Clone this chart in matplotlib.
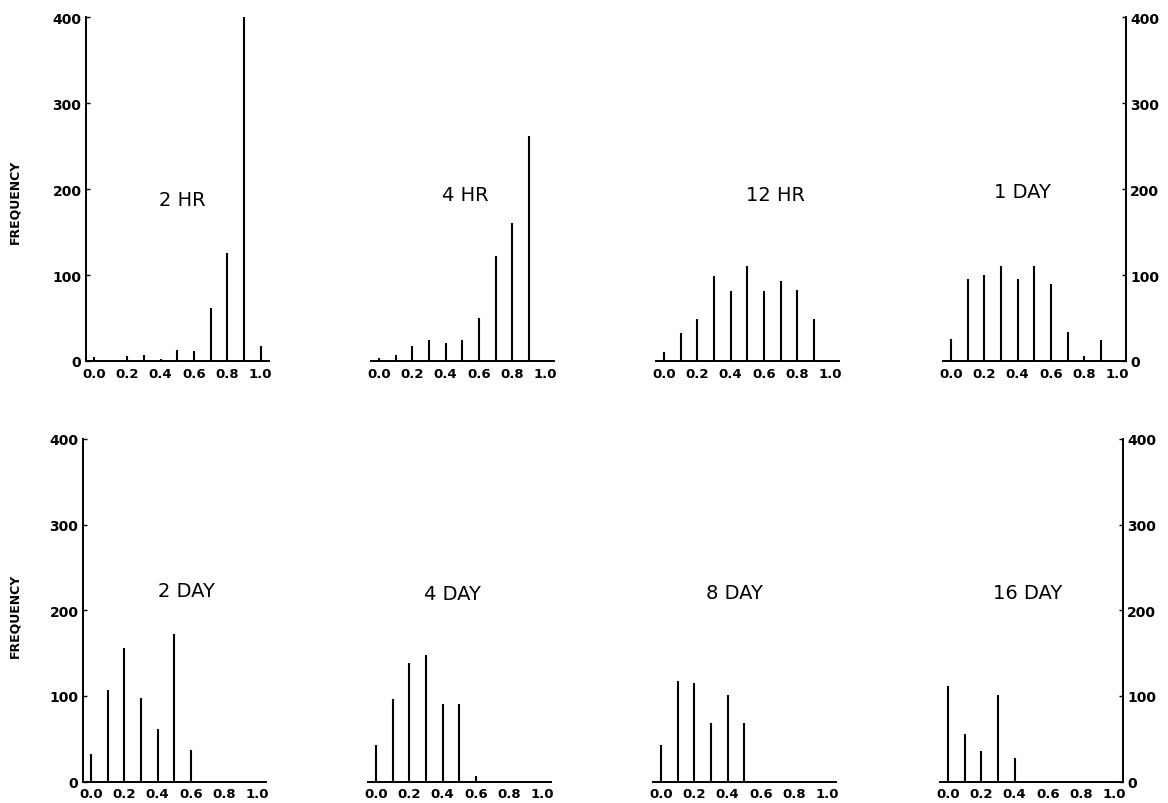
import numpy as np
import matplotlib.pyplot as plt

plt.rcParams['font.family'] = ['DejaVu Sans']

# =========================
# 1. data
# =========================
bins = [0.0, 0.1, 0.2, 0.3, 0.4, 0.5, 0.6, 0.7, 0.8, 0.9, 1.0]
tick_pos = [0.0, 0.2, 0.4, 0.6, 0.8, 1.0]
tick_labels = ["0.0", "0.2", "0.4", "0.6", "0.8", "1.0"]
y_ticks = [0, 100, 200, 300, 400]

freq_2hr = [5, 0, 6, 7, 2, 13, 12, 62, 126, 400, 17]
freq_4hr = [4, 7, 17, 24, 21, 25, 50, 122, 160, 262, 0]
freq_12hr = [11, 32, 49, 99, 81, 111, 81, 93, 82, 49, 0]
freq_1day = [26, 95, 100, 110, 95, 111, 89, 34, 6, 25, 0]
freq_2day = [32, 107, 156, 98, 61, 172, 37, 0, 0, 0, 0]
freq_4day = [43, 96, 138, 148, 90, 91, 7, 0, 0, 0, 0]
freq_8day = [43, 117, 115, 68, 101, 68, 0, 0, 0, 0, 0]
freq_16day = [112, 55, 36, 101, 27, 0, 0, 0, 0, 0, 0]

panels = [
    ("2 HR", freq_2hr, 0.53, 188),
    ("4 HR", freq_4hr, 0.52, 194),
    ("12 HR", freq_12hr, 0.67, 194),
    ("1 DAY", freq_1day, 0.43, 197),
    ("2 DAY", freq_2day, 0.57, 223),
    ("4 DAY", freq_4day, 0.46, 219),
    ("8 DAY", freq_8day, 0.44, 221),
    ("16 DAY", freq_16day, 0.48, 221),
]

# =========================
# 2. layout (pixel positions of each panel)
# =========================
W, H = 1168, 804
fig = plt.figure(figsize=(W / 100, H / 100), dpi=100)

zero_x = [[94, 379, 664, 951], [91, 376, 661, 948]]
row_top = [18, 440]
row_bottom = [362, 782.5]
ylabel_y = [202, 616]
px_per_unit = 166.7

for i, (name, freq, tx, ty) in enumerate(panels):
    row, col = divmod(i, 4)
    left = zero_x[row][col] - 0.05 * px_per_unit
    width = 1.1 * px_per_unit
    ax = fig.add_axes([left / W, (H - row_bottom[row]) / H,
                       width / W, (row_bottom[row] - row_top[row]) / H])

    ax.vlines(bins, 0, freq, color="black", linewidth=1.5)
    ax.set_xlim(-0.05, 1.05)
    ax.set_ylim(0, 400)

    ax.text(tx, ty, name, ha="center", va="center", fontsize=14)

    ax.set_xticks(tick_pos)
    ax.set_xticklabels(tick_labels, fontsize=9.5, fontweight="bold")
    ax.tick_params(axis="x", length=0, pad=4)

    for s in ["top", "left", "right"]:
        ax.spines[s].set_visible(False)
    ax.spines["bottom"].set_linewidth(1.4)

    if col == 0:
        ax.spines["left"].set_visible(True)
        ax.spines["left"].set_linewidth(1.4)
        ax.set_yticks(y_ticks)
        ax.set_yticklabels([str(v) for v in y_ticks], fontsize=10, fontweight="bold")
        ax.tick_params(axis="y", direction="in", length=3, width=1, pad=3)
        fig.text(15 / W, 1 - ylabel_y[row] / H, "FREQUENCY", rotation=90,
                 ha="center", va="center", fontsize=9, fontweight="bold")
    elif col == 3:
        ax.spines["right"].set_visible(True)
        ax.spines["right"].set_linewidth(1.4)
        ax.yaxis.tick_right()
        ax.set_yticks(y_ticks)
        ax.set_yticklabels([str(v) for v in y_ticks], fontsize=10, fontweight="bold")
        ax.tick_params(axis="y", direction="in", length=3, width=1, pad=3)
    else:
        ax.set_yticks([])

plt.savefig("out.png", dpi=100)
